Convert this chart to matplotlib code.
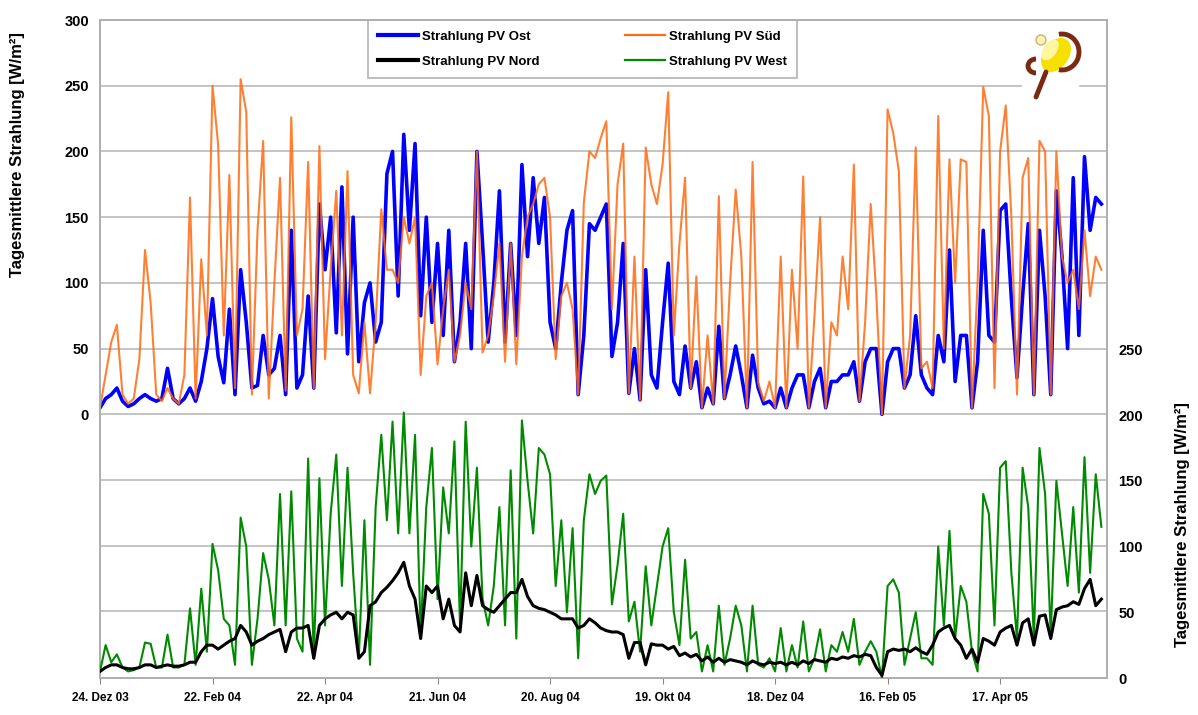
import matplotlib
matplotlib.use("Agg")
import matplotlib.pyplot as plt
from matplotlib.patches import Ellipse, Circle, Arc, Rectangle
import numpy as np

plt.rcParams['font.family'] = ['Liberation Sans', 'DejaVu Sans']

start = np.datetime64('2003-12-24')
day_step = 3

sued = [5, 30, 55, 68, 15, 8, 12, 42, 125, 85, 15, 10, 20, 12, 8, 30, 165, 12, 118, 60,
        250, 205, 60, 182, 20, 255, 230, 15, 140, 208, 12, 100, 180, 18, 226, 60, 80, 192, 20, 204,
        42, 110, 170, 60, 185, 30, 16, 70, 16, 70, 156, 110, 110, 100, 150, 130, 150, 30, 90, 100,
        38, 80, 110, 40, 60, 100, 80, 200, 47, 60, 90, 130, 40, 130, 38, 120, 150, 160, 175, 180,
        150, 42, 90, 100, 80, 15, 161, 200, 195, 210, 223, 80, 175, 206, 16, 120, 11, 203, 175, 160,
        190, 245, 60, 130, 180, 20, 105, 5, 60, 8, 166, 12, 100, 171, 120, 5, 192, 24, 10, 25,
        5, 120, 5, 110, 50, 181, 5, 75, 150, 5, 70, 60, 120, 80, 190, 10, 70, 160, 90, 0,
        232, 214, 185, 20, 60, 203, 35, 40, 20, 227, 50, 194, 100, 194, 192, 5, 100, 249, 227, 20,
        200, 235, 150, 15, 180, 195, 15, 208, 200, 15, 200, 120, 100, 110, 80, 140, 90, 120, 110]

ost = [5, 12, 15, 20, 10, 6, 8, 12, 15, 12, 10, 12, 35, 12, 8, 12, 20, 10, 25, 50,
       88, 44, 24, 80, 15, 110, 70, 20, 22, 60, 30, 35, 60, 15, 140, 20, 30, 90, 20, 160,
       110, 150, 62, 173, 46, 150, 40, 85, 100, 55, 70, 183, 200, 90, 213, 140, 206, 75, 150, 70,
       130, 60, 140, 40, 70, 130, 50, 200, 130, 55, 100, 170, 55, 130, 60, 190, 120, 180, 130, 165,
       70, 50, 100, 140, 155, 15, 60, 145, 140, 150, 160, 44, 70, 130, 16, 50, 11, 110, 30, 20,
       70, 115, 25, 15, 52, 20, 40, 5, 20, 8, 67, 12, 30, 52, 30, 5, 45, 20, 8, 10,
       5, 20, 5, 20, 30, 30, 5, 25, 35, 5, 25, 25, 30, 30, 40, 10, 40, 50, 50, 0,
       40, 50, 50, 20, 30, 75, 30, 20, 15, 60, 40, 125, 25, 60, 60, 5, 40, 140, 60, 55,
       155, 160, 88, 28, 90, 145, 15, 140, 90, 15, 170, 120, 50, 180, 60, 196, 140, 165, 160]

west = [5, 25, 12, 18, 8, 5, 6, 8, 27, 26, 8, 8, 33, 8, 8, 10, 53, 10, 68, 20,
        102, 82, 45, 40, 10, 122, 100, 10, 45, 95, 75, 40, 140, 40, 142, 30, 20, 167, 15, 152,
        40, 125, 170, 70, 160, 80, 15, 120, 10, 130, 185, 120, 195, 110, 202, 110, 185, 33, 130, 175,
        60, 145, 110, 180, 40, 195, 100, 160, 60, 40, 70, 130, 40, 158, 30, 196, 150, 110, 175, 170,
        155, 70, 120, 50, 114, 15, 120, 155, 140, 150, 154, 56, 86, 125, 43, 58, 20, 85, 40, 70,
        100, 114, 50, 25, 90, 30, 35, 5, 25, 5, 55, 10, 30, 55, 40, 5, 55, 10, 8, 15,
        5, 38, 5, 25, 8, 43, 5, 15, 37, 5, 25, 20, 35, 20, 45, 10, 20, 28, 20, 0,
        70, 75, 65, 10, 30, 50, 15, 15, 10, 100, 40, 112, 30, 70, 58, 20, 5, 140, 125, 40,
        160, 165, 80, 30, 160, 130, 30, 175, 140, 33, 150, 110, 70, 130, 65, 168, 80, 155, 115]

nord = [5, 8, 10, 10, 8, 7, 7, 8, 10, 10, 8, 9, 10, 9, 9, 10, 12, 12, 20, 25,
        25, 22, 25, 28, 30, 40, 35, 25, 28, 30, 33, 35, 37, 20, 35, 38, 38, 40, 15, 40,
        45, 48, 50, 45, 50, 48, 15, 20, 55, 58, 65, 69, 74, 80, 88, 70, 60, 30, 70, 65,
        70, 45, 60, 40, 35, 80, 55, 78, 55, 52, 50, 55, 60, 65, 65, 75, 62, 55, 53, 52,
        50, 48, 45, 45, 45, 38, 40, 45, 42, 38, 36, 35, 35, 33, 15, 27, 27, 10, 26, 25,
        25, 22, 24, 17, 19, 16, 18, 13, 16, 12, 15, 12, 14, 13, 12, 10, 13, 11, 10, 12,
        11, 12, 10, 12, 10, 13, 11, 14, 13, 12, 15, 14, 16, 15, 17, 16, 18, 17, 8, 2,
        20, 22, 21, 22, 20, 23, 20, 18, 25, 35, 38, 40, 30, 25, 15, 22, 12, 30, 28, 25,
        35, 38, 40, 25, 42, 45, 25, 47, 48, 30, 52, 54, 55, 58, 56, 68, 75, 55, 60]

tick_labels = ['24. Dez 03', '22. Feb 04', '22. Apr 04', '21. Jun 04', '20. Aug 04',
               '19. Okt 04', '18. Dez 04', '16. Feb 05', '17. Apr 05']

dates = start + np.arange(len(sued)) * np.timedelta64(day_step, 'D')
dates = dates.astype('datetime64[D]').astype(object)
tick_dates = (start + np.arange(len(tick_labels)) * np.timedelta64(60, 'D')).astype(object)

fig = plt.figure(figsize=(11.98, 7.15), dpi=100)
ax = fig.add_axes([100 / 1198, 1 - 678 / 715, 1007 / 1198, 658 / 715])
ax2 = ax.twinx()

# obere Grafik (linke Achse)
l_ost, = ax.plot(dates, ost, color='#0000ff', lw=2.6, label='Strahlung PV Ost', zorder=3)
l_sued, = ax.plot(dates, sued, color='#ff6a10', lw=1.5, alpha=0.85, label='Strahlung PV Süd', zorder=4)
# untere Grafik (rechte Achse)
l_west, = ax2.plot(dates, west, color='#008a00', lw=1.5, label='Strahlung PV West', zorder=3)
l_nord, = ax2.plot(dates, nord, color='#000000', lw=2.2, label='Strahlung PV Nord', zorder=4)

ax.set_xlim(start.astype(object), (start + np.timedelta64(537, 'D')).astype(object))
ax.set_ylim(-200.6, 300)
ax2.set_ylim(0, 500.6)
ax.set_yticks(range(0, 301, 50))
ax2.set_yticks(range(0, 251, 50))
for g in range(-150, 301, 50):
    ax.axhline(g, color='#c4c4c4', lw=1.4, zorder=0)

ax.set_xticks(tick_dates)
ax.set_xticklabels(tick_labels)
ax.tick_params(axis='x', length=4, color='#888888', labelsize=8.5, pad=6)
ax.tick_params(axis='y', length=0, labelsize=10.5, pad=8)
ax2.tick_params(axis='y', length=0, labelsize=10.5, pad=8)
for t in ax.get_xticklabels() + ax.get_yticklabels() + ax2.get_yticklabels():
    t.set_fontweight('bold')
for sp in list(ax.spines.values()) + list(ax2.spines.values()):
    sp.set_color('#b0b0b0')
    sp.set_linewidth(1.3)

ax.set_ylabel('Tagesmittlere Strahlung [W/m²]', fontsize=12, fontweight='bold')
ax.yaxis.set_label_coords(-0.074, 0.795)
ax2.set_ylabel('Tagesmittlere Strahlung [W/m²]', fontsize=12, fontweight='bold')
ax2.yaxis.set_label_coords(1.068, 0.233)

leg = ax.legend(handles=[l_ost, l_nord, l_sued, l_west], ncol=2, loc='upper center',
                bbox_to_anchor=(0.479, 1.0), frameon=True, fancybox=False,
                prop={'weight': 'bold', 'size': 9.5}, handlelength=3.0, handletextpad=0.3,
                columnspacing=6.5, borderpad=0.8, labelspacing=0.95, borderaxespad=0)
leg.get_frame().set_edgecolor('#a0a0a0')
leg.get_frame().set_linewidth(1.2)
leg.set_zorder(10)
for h, w in zip(leg.legend_handles, [3.0, 3.0, 1.6, 1.6]):
    h.set_alpha(1)
    h.set_linewidth(w)

# Logo
lax = fig.add_axes([1020 / 1198, 1 - 100 / 715, 70 / 1198, 75 / 715])
lax.set_xlim(1020, 1090)
lax.set_ylim(100, 25)
lax.axis('off')
lax.add_patch(Rectangle((1022, 78), 56, 14, color='white'))
lax.add_patch(Ellipse((1056, 55), 24, 36, angle=35, color='#f6e000'))
lax.add_patch(Ellipse((1050, 50), 12, 22, angle=35, color='#fff7a0'))
lax.add_patch(Arc((1062, 52), 34, 36, theta1=-100, theta2=100, color='#7a2a10', lw=3.5))
lax.plot([1046, 1036], [72, 97], color='#7a2a10', lw=3.5, solid_capstyle='round')
lax.add_patch(Arc((1036, 66), 16, 14, theta1=90, theta2=270, color='#7a2a10', lw=3.5))
lax.add_patch(Circle((1041, 40), 5, facecolor='#fff2b0', edgecolor='#d0b070', lw=1))

fig.savefig('out.png', dpi=100)
